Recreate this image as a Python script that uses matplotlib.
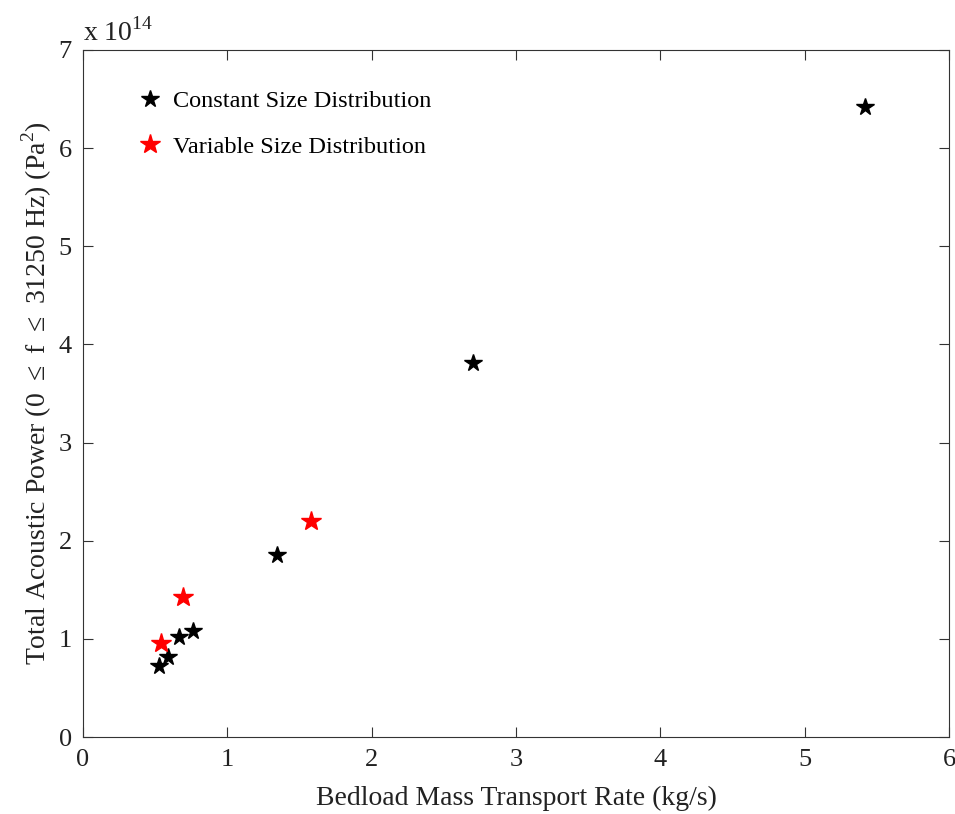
import matplotlib.pyplot as plt

plt.rcParams['font.family'] = ['Liberation Serif', 'DejaVu Serif']
plt.rcParams['mathtext.fontset'] = 'custom'
plt.rcParams['mathtext.rm'] = 'Liberation Serif'

# --- data (power in units of 1e14 Pa^2) ---
const_x = [0.527, 0.587, 0.665, 0.76, 1.342, 2.70, 5.42]
const_y = [0.72, 0.82, 1.02, 1.08, 1.855, 3.81, 6.42]
var_x = [0.538, 0.69, 1.58]
var_y = [0.96, 1.43, 2.20]

fig = plt.figure(figsize=(9.55, 8.14), dpi=100)
ax = fig.add_axes([83 / 955, 77 / 814, 866 / 955, 687 / 814])

ax.plot(const_x, const_y, linestyle='none', marker='*', color='black',
        markersize=13, label='Constant Size Distribution')
ax.plot(var_x, var_y, linestyle='none', marker='*', color='red',
        markersize=15, label='Variable Size Distribution')

ax.set_xlim(0, 6)
ax.set_ylim(0, 7)
ax.set_xticks(range(0, 7))
ax.set_yticks(range(0, 8))
ax.tick_params(direction='in', length=7, labelsize=19, top=True, right=True,
               color='#333333', labelcolor='#222222')
ax.tick_params(axis='x', pad=9)
ax.tick_params(axis='y', pad=8)
for s in ax.spines.values():
    s.set_color('#333333')

ax.set_xlabel('Bedload Mass Transport Rate (kg/s)', fontsize=20,
              color='#222222', labelpad=10)
ax.set_ylabel(r'Total Acoustic Power (0 $\leq$ f $\leq$ 31250 Hz) (Pa$^2$)',
              fontsize=20, color='#222222', labelpad=3)
ax.text(0.0, 1.005, r'x 10$^{14}$', transform=ax.transAxes, fontsize=20,
        ha='left', va='bottom', color='#222222')

leg = ax.legend(loc='upper left', frameon=False, fontsize=17.5, numpoints=1,
                handlelength=1.0, handletextpad=0.44, labelspacing=0.95,
                bbox_to_anchor=(0.0385, 0.973))

fig.savefig('out.png', dpi=100)
